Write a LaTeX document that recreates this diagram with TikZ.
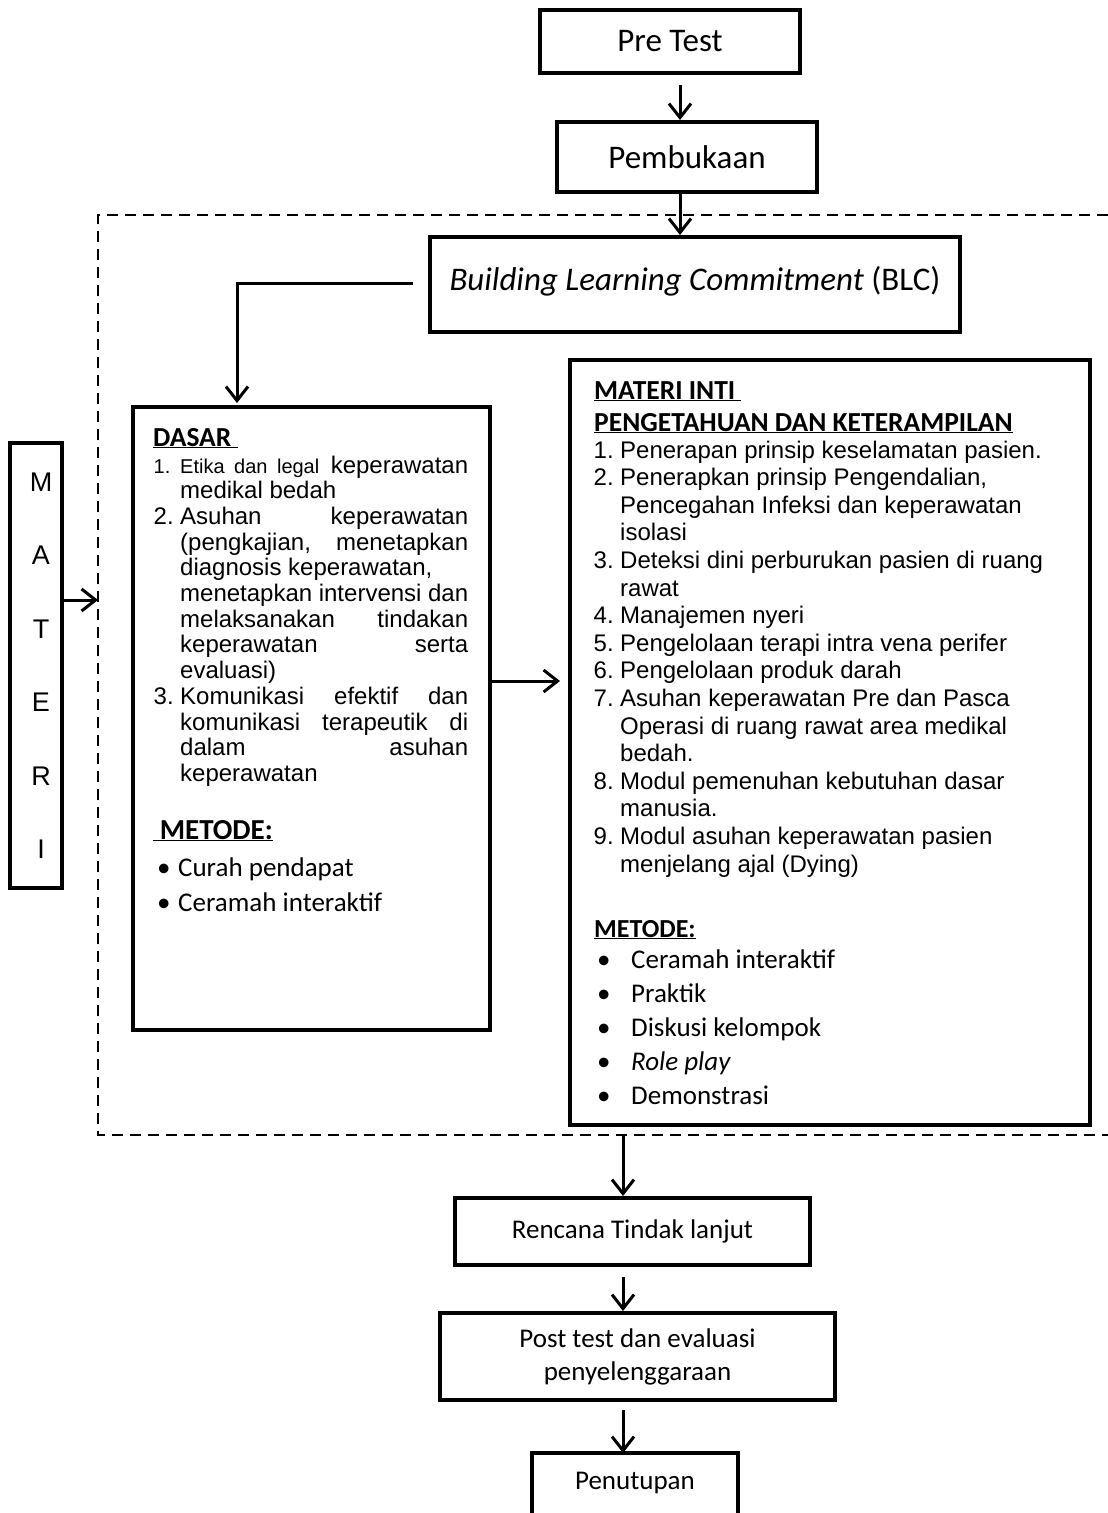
\documentclass[tikz,border=0pt]{standalone}
\usepackage{fontspec}
\setmainfont{Carlito}
\newfontfamily\arialfont{Liberation Sans}
\usetikzlibrary{arrows.meta}

\newcommand{\numlab}[1]{\llap{\makebox[26.5pt][l]{#1}}}
\newcommand{\justline}[1]{\makebox[288pt][s]{#1}}

\tikzset{
  box/.style={draw, line width=4pt, inner sep=0pt},
  flow/.style={line width=3pt, -{Straight Barb[length=14pt,width=22pt,line width=3pt]}},
  frame/.style={line width=2pt, dash pattern=on 11pt off 7pt},
  listline/.style={anchor=base west, inner sep=0pt, font=\arialfont\fontsize{24}{24}\selectfont},
  headline/.style={anchor=base west, inner sep=0pt, font=\bfseries\fontsize{27.5}{27.5}\selectfont},
  caraline/.style={anchor=base west, inner sep=0pt, font=\fontsize{27}{27}\selectfont}
}

\begin{document}
\begin{tikzpicture}[x=1pt,y=-1pt]
  \useasboundingbox (0,0) rectangle (1108,1513);

  % dashed frame, open on the right
  \coordinate (frtop) at (98,215);
  \coordinate (frbot) at (98,1135);
  \draw[frame] (1108,215) -- (frtop) -- (frbot) -- (1108,1135);

  \node[box, minimum width=260pt, minimum height=63pt, font=\fontsize{33}{33}\selectfont] (pretest) at (670,41.5) {Pre Test};
  \node[box, minimum width=260pt, minimum height=70pt, font=\fontsize{33}{33}\selectfont] (buka) at (687,157) {Pembukaan};
  \node[box, minimum width=530pt, minimum height=95pt, font=\fontsize{33}{33}\selectfont] (blc) at (695,284.5)
    {\raisebox{12pt}{\textit{Building Learning Commitment} (BLC)}};

  \node[box, line width=3.5pt, minimum width=52pt, minimum height=445pt] (materi) at (36,665.5) {};
  \node[box, minimum width=357pt, minimum height=623pt] (dasar) at (311.5,718.5) {};
  \node[box, minimum width=520pt, minimum height=765pt] (inti) at (830,742.5) {};

  \node[box, minimum width=355pt, minimum height=67pt, font=\fontsize{27}{27}\selectfont] (rtl) at (632.5,1231.5) {Rencana Tindak lanjut};
  \node[box, minimum width=395pt, minimum height=87pt, align=center, font=\fontsize{27}{33}\selectfont] (post) at (637.5,1356.5)
    {Post test dan evaluasi\\penyelenggaraan};
  \node[font=\fontsize{27}{27}\selectfont] (tutup) at (635,1483) {Penutupan};
  \coordinate (tutuptop) at (623,1453);
  \draw[line width=4pt] (532,1513) -- (532,1453) -- (738,1453) -- (738,1513);

  % MATERI
  \foreach \huruf [count=\i] in {M,A,T,E,R,I}
    \node[anchor=base, inner sep=0pt, font=\arialfont\fontsize{27}{27}\selectfont] (huruf\i) at (41,491+73.5*\i-73.5) {\huruf};

  % DASAR
  \node[headline] (dasarjudul) at (153,446) {\underline{DASAR\ }};
  \foreach \txt [count=\i] in {
      {\numlab{\fontsize{20}{20}\selectfont 1.}\justline{{\fontsize{20}{20}\selectfont Etika dan legal} keperawatan}},
      {medikal bedah},
      {\numlab{2.}\justline{Asuhan keperawatan}},
      {\justline{(pengkajian, menetapkan}},
      {diagnosis keperawatan,},
      {\justline{menetapkan intervensi dan}},
      {\justline{melaksanakan tindakan}},
      {\justline{keperawatan serta}},
      {evaluasi)},
      {\numlab{3.}\justline{Komunikasi efektif dan}},
      {\justline{komunikasi terapeutik di}},
      {\justline{dalam asuhan}},
      {keperawatan}}
    \node[listline] (dasar\i) at (180,473+25.7*\i-25.7) {\txt};
  \node[headline, font=\bfseries\fontsize{29}{29}\selectfont] (dasarmetode) at (153,839) {\underline{\ METODE:}};
  \foreach \txt [count=\i] in {Curah pendapat, Ceramah interaktif}
    \node[caraline] (dasarcara\i) at (178,876+35*\i-35) {\llap{\makebox[21pt][l]{\textbullet}}\txt};

  % MATERI INTI
  \node[headline] (intijudul) at (594,399) {\underline{MATERI INTI\ }};
  \node[headline] (intisub) at (594,431) {\underline{PENGETAHUAN DAN KETERAMPILAN}};
  \foreach \txt [count=\i] in {
      {\numlab{1.}Penerapan prinsip keselamatan pasien.},
      {\numlab{2.}Penerapkan prinsip Pengendalian,},
      {Pencegahan Infeksi dan keperawatan},
      {isolasi},
      {\numlab{3.}Deteksi dini perburukan pasien di ruang},
      {rawat},
      {\numlab{4.}Manajemen nyeri},
      {\numlab{5.}Pengelolaan terapi intra vena perifer},
      {\numlab{6.}Pengelolaan produk darah},
      {\numlab{7.}Asuhan keperawatan Pre dan Pasca},
      {Operasi di ruang rawat area medikal},
      {bedah.},
      {\numlab{8.}Modul pemenuhan kebutuhan dasar},
      {manusia.},
      {\numlab{9.}Modul asuhan keperawatan pasien},
      {menjelang ajal (Dying)}}
    \node[listline] (inti\i) at (620,458+27.6*\i-27.6) {\txt};
  \node[headline, font=\bfseries\fontsize{26}{26}\selectfont] (intimetode) at (594,937) {\underline{METODE:}};
  \foreach \txt [count=\i] in {Ceramah interaktif, Praktik, Diskusi kelompok, \textit{Role play}, Demonstrasi}
    \node[caraline] (inticara\i) at (631,968+34*\i-34) {\llap{\makebox[34pt][l]{\textbullet}}\txt};

  % connectors
  \draw[flow] ([xshift=10pt,yshift=-10pt]pretest.south) -- ([xshift=-7pt]buka.north);
  \draw[flow] ([xshift=-7pt]buka.south) -- ([xshift=-15pt]blc.north);
  \draw[flow] ([xshift=-15pt,yshift=1.5pt]blc.west) -| ([xshift=-74.5pt,yshift=2pt]dasar.north);
  \draw[flow] ([yshift=65.5pt]materi.east) -- ([yshift=65.5pt]materi.east -| frtop);
  \draw[flow, shorten >=8pt] ([yshift=37.5pt]dasar.east) -- ([yshift=37.5pt]dasar.east -| inti.west);
  \draw[flow] ([xshift=-9.5pt]rtl.north |- frbot) -- ([xshift=-9.5pt]rtl.north);
  \draw[flow] ([xshift=-9.5pt,yshift=-10pt]rtl.south) -- ([xshift=-14.5pt]post.north);
  \draw[flow] ([xshift=-14.5pt,yshift=-8pt]post.south) -- (tutuptop);
\end{tikzpicture}
\end{document}
